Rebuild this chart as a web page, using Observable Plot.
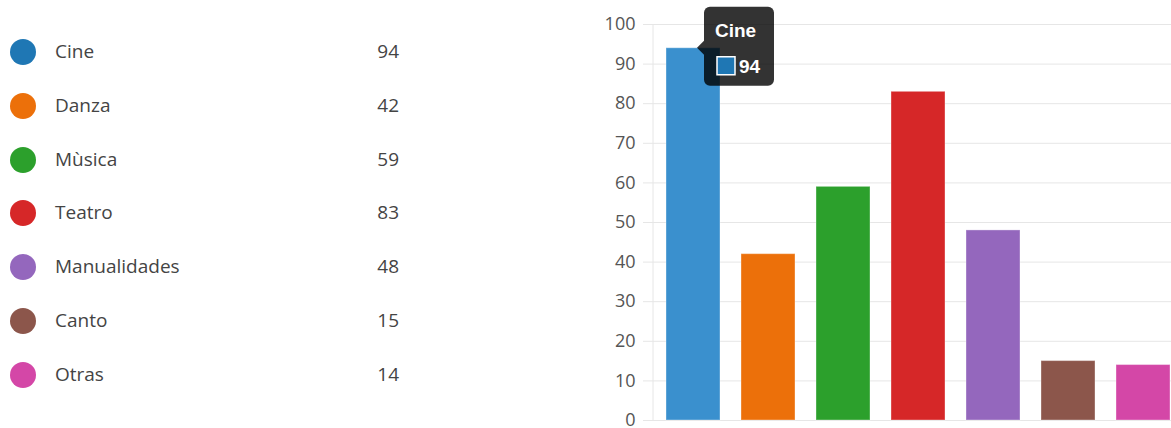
<!DOCTYPE html>
<html>
<head>
<meta charset="utf-8">
<script src="https://cdn.jsdelivr.net/npm/d3@7"></script>
<script src="https://cdn.jsdelivr.net/npm/@observablehq/plot@0.6"></script>
<style>
  html, body { margin: 0; padding: 0; background: #fff; overflow: hidden; width: 1171px; height: 428px; }
  #legend { position: absolute; left: 0; top: 0; width: 420px; height: 428px; font-family: "Open Sans", "Noto Sans", sans-serif; font-size: 19px; color: #444; }
  .row { position: absolute; left: 0; width: 399px; height: 26px; line-height: 26px; }
  .dot { position: absolute; left: 9.5px; top: 0; width: 26px; height: 26px; border-radius: 50%; }
  .lab { position: absolute; left: 55px; top: -1px; white-space: nowrap; }
  .val { position: absolute; right: 0; top: -1px; }
  #chart { position: absolute; left: 560px; top: 0; width: 622px; height: 428px; }
  #chart svg { max-width: none !important; }
</style>
</head>
<body>
<div id="legend"></div>
<div id="chart"></div>
<script>
// ---- data ----
const categories = ["Cine", "Danza", "Mùsica", "Teatro", "Manualidades", "Canto", "Otras"];
const values = [94, 42, 59, 83, 48, 15, 14];
const colors = ["#1f77b4", "#ec700a", "#2ca02c", "#d62728", "#9467bd", "#8c564b", "#d447a7"];
const barColors = ["#3a90ce", "#ec700a", "#2ca02c", "#d62728", "#9467bd", "#8c564b", "#d447a7"];
const yTicks = [0, 10, 20, 30, 40, 50, 60, 70, 80, 90, 100];
const tipIndex = 0; // hovered category shown in tooltip

// ---- legend (HTML) ----
const legend = d3.select("#legend");
const rowTop = 39, rowStep = 53.8;
categories.forEach((c, i) => {
  const row = legend.append("div").attr("class", "row").style("top", (rowTop + i * rowStep) + "px");
  row.append("div").attr("class", "dot").style("background", colors[i]);
  row.append("div").attr("class", "lab").text(c);
  row.append("div").attr("class", "val").text(values[i]);
});

// ---- chart ----
const data = categories.map((c, i) => ({cat: c, val: values[i], color: barColors[i]}));

function axisLine(index, scales, vals, dims) {
  const x = dims.marginLeft;
  const g = d3.create("svg:g");
  g.append("line")
    .attr("x1", x).attr("x2", x)
    .attr("y1", dims.marginTop).attr("y2", dims.height - dims.marginBottom + 0.5)
    .attr("stroke", "#e6e6e6").attr("stroke-width", 1);
  return g.node();
}

function tooltip(index, scales, vals, dims) {
  const cat = categories[tipIndex], v = values[tipIndex];
  const bw = typeof scales.x.bandwidth === "function" ? scales.x.bandwidth() : (scales.x.bandwidth ?? 54);
  const cx = scales.x(cat) + bw / 2;
  const cy = scales.y(v);
  const left = cx + 11, top = cy - 41, w = 70, h = 79;
  const g = d3.create("svg:g").attr("text-anchor", "start");
  g.append("rect").attr("x", left).attr("y", top).attr("width", w).attr("height", h)
    .attr("rx", 6).attr("fill", "rgba(0,0,0,0.8)");
  g.append("path").attr("d", `M${cx + 4},${cy} L${left},${cy - 7} L${left},${cy + 7} Z`)
    .attr("fill", "rgba(0,0,0,0.8)");
  g.append("text").attr("x", left + 11).attr("y", top + 30).attr("text-anchor", "start")
    .attr("fill", "#fff").attr("font-weight", "bold").attr("font-size", 19)
    .attr("font-family", "'Liberation Sans', Arial, sans-serif").text(cat);
  g.append("rect").attr("x", left + 13).attr("y", top + 50).attr("width", 18).attr("height", 18)
    .attr("fill", colors[tipIndex]).attr("stroke", "#fff").attr("stroke-width", 1.5);
  g.append("text").attr("x", left + 35).attr("y", top + 66).attr("text-anchor", "start")
    .attr("fill", "#fff").attr("font-weight", "bold").attr("font-size", 19)
    .attr("font-family", "'Liberation Sans', Arial, sans-serif").text(v);
  return g.node();
}

const chart = Plot.plot({
  width: 622,
  height: 428,
  marginLeft: 93,
  marginRight: 0,
  marginTop: 24,
  marginBottom: 8,
  style: {fontFamily: "'Open Sans', 'Noto Sans', sans-serif", fontSize: "18px", color: "#555", background: "transparent", overflow: "visible", maxWidth: "none"},
  x: {domain: categories, paddingInner: 0.28, paddingOuter: 0.14, axis: null},
  y: {domain: [0, 100], axis: null},
  color: {type: "identity"},
  marks: [
    Plot.ruleY(yTicks, {stroke: "#e6e6e6", strokeWidth: 1}),
    Plot.axisY(yTicks, {tickSize: 10, tickPadding: 8, stroke: "#e6e6e6", fill: "#555", fontSize: 18, label: null}),
    axisLine,
    Plot.barY(data, {x: "cat", y: "val", fill: "color", stroke: "#ffffff", strokeOpacity: 0.35, strokeWidth: 1}),
    tooltip
  ]
});
document.getElementById("chart").appendChild(chart);
</script>
</body>
</html>
